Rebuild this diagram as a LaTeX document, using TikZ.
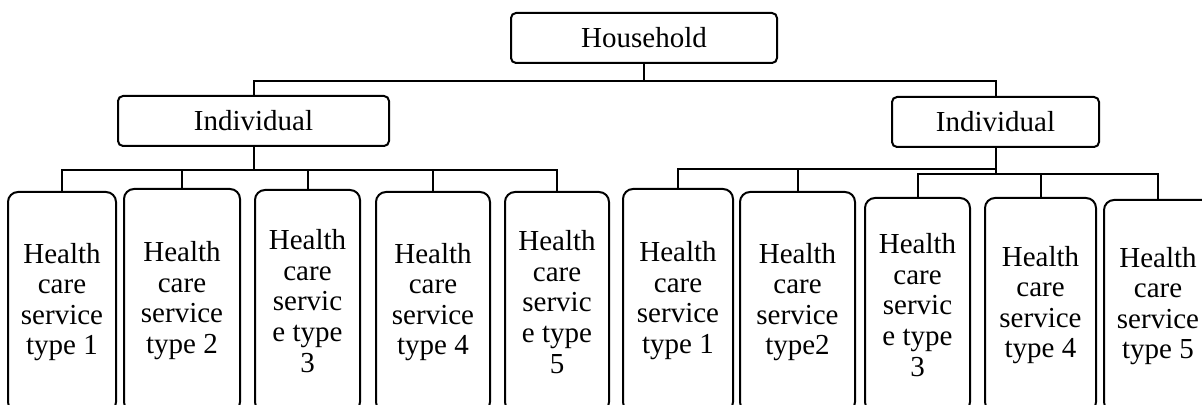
\documentclass[tikz,border=0pt]{standalone}
\usepackage{fontspec}
\setmainfont{Liberation Serif}
\usetikzlibrary{positioning}
\tikzset{
  group/.style={rectangle, rounded corners=2.5pt, fill=white, draw, line width=1pt, inner sep=0pt},
  leaf/.style={rectangle, rounded corners=5pt, fill=white, draw, line width=1pt, inner sep=0pt, align=center},
  link/.style={line width=1pt}
}
\begin{document}
\begin{tikzpicture}[x=0.5pt, y=-0.5pt, font=\fontsize{14.5pt}{15.3pt}\selectfont]
      \useasboundingbox (0,0) rectangle (1202,405);
      \clip (0,0) rectangle (1202,405);
      \node [group, minimum width=133pt, minimum height=25pt] (hh) at (644,38) {Household};
      \node [group, minimum width=135.5pt, minimum height=25pt] (indL) at (253.5,121) {Individual};
      \node [group, minimum width=103.5pt, minimum height=25pt] (indR) at (995.5,122) {Individual};
      % services of the first individual
      \node [leaf, minimum width=54pt, minimum height=110pt] (sL1) at (62,302) {Health\\care\\service\\type 1};
      \node [leaf, minimum width=58pt, minimum height=111.5pt] (sL2) at (182,300.5) {Health\\care\\service\\type 2};
      \node [leaf, minimum width=52.5pt, minimum height=111pt] (sL3) at (307.5,301) {Health\\care\\servic\\e type\\3};
      \node [leaf, minimum width=57pt, minimum height=110pt] (sL4) at (433,302) {Health\\care\\service\\type 4};
      \node [leaf, minimum width=52pt, minimum height=110pt] (sL5) at (557,302) {Health\\care\\servic\\e type\\5};
      % services of the second individual
      \node [leaf, minimum width=55pt, minimum height=111.5pt] (sR1) at (678,300.5) {Health\\care\\service\\type 1};
      \node [leaf, minimum width=57.5pt, minimum height=110pt] (sR2) at (797.5,302) {Health\\care\\service\\type2};
      \node [leaf, minimum width=52.5pt, minimum height=107pt] (sR3) at (917.5,305) {Health\\care\\servic\\e type\\3};
      \node [leaf, minimum width=55.5pt, minimum height=107pt] (sR4) at (1040.5,305) {Health\\care\\service\\type 4};
      \node [leaf, minimum width=54pt, minimum height=106pt] (sR5) at (1158,306) {Health\\care\\service\\type 5};
      % connectors
      \draw [link] (hh.south) -- ++(0,17) coordinate (hbus);
      \draw [link] (hbus) -| (indL.north);
      \draw [link] (hbus) -| (indR.north);
      \draw [link] (indL.south) -- ++(0,23) coordinate (lbus);
      \foreach \i in {1,...,5}
        \draw [link] (lbus) -| (sL\i.north);
      \draw [link] (indR.south) -- ++(0,21) coordinate (rbusA) -- ++(0,5) coordinate (rbusB);
      \foreach \i in {1,2}
        \draw [link] (rbusA) -| (sR\i.north);
      \foreach \i in {3,4,5}
        \draw [link] (rbusB) -| (sR\i.north);
    \end{tikzpicture}
\end{document}
